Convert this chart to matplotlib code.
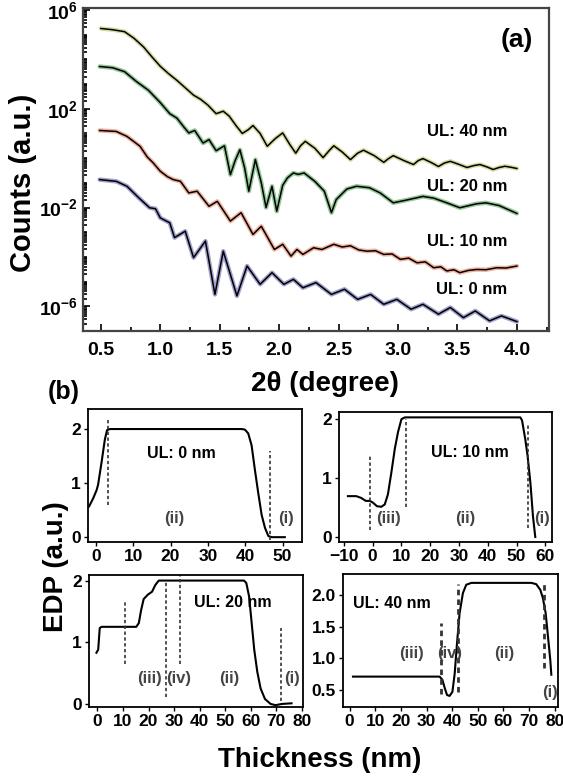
import numpy as np
import matplotlib
matplotlib.use("Agg")
import matplotlib.pyplot as plt
from matplotlib.ticker import LogLocator, FixedLocator, NullFormatter, FuncFormatter, MultipleLocator

plt.rcParams['font.family'] = ['Liberation Sans', 'DejaVu Sans']
plt.rcParams['font.weight'] = 'bold'
plt.rcParams['mathtext.fontset'] = 'custom'
plt.rcParams['mathtext.rm'] = 'Liberation Sans:bold'
plt.rcParams['mathtext.bf'] = 'Liberation Sans:bold'

# ---- panel (a): reflectivity curves, x = 2theta, values as log10(counts)
x40 = [0.50, 0.60, 0.70, 0.78, 0.86, 0.93, 1.00, 1.07, 1.14, 1.21, 1.28, 1.34, 1.40, 1.47, 1.53,
       1.58, 1.64, 1.69, 1.74, 1.78, 1.84, 1.90, 1.97, 2.03, 2.09, 2.14, 2.18, 2.22, 2.30, 2.37,
       2.42, 2.46, 2.53, 2.60, 2.66, 2.71, 2.80, 2.88, 2.92, 2.96, 3.05, 3.13, 3.17, 3.21, 3.28,
       3.34, 3.39, 3.44, 3.51, 3.58, 3.64, 3.69, 3.75, 3.80, 3.85, 3.90, 3.95, 4.00]
y40 = [5.25, 5.20, 5.12, 4.85, 4.50, 4.10, 3.72, 3.42, 3.15, 2.85, 2.55, 2.38, 2.15, 1.80, 1.90,
       1.70, 1.30, 1.00, 1.15, 1.32, 1.00, 0.48, 0.80, 1.02, 0.55, 0.20, 0.50, 0.68, 0.40, 0.02,
       0.30, 0.50, 0.25, -0.06, 0.20, 0.32, 0.10, -0.17, -0.02, 0.10, -0.10, -0.26, -0.10, -0.02,
       -0.18, -0.34, -0.20, -0.13, -0.25, -0.38, -0.30, -0.26, -0.36, -0.46, -0.38, -0.33, -0.37, -0.42]

x20 = [0.49, 0.60, 0.70, 0.80, 0.90, 1.00, 1.08, 1.14, 1.20, 1.24, 1.29, 1.36, 1.41, 1.47, 1.54,
       1.59, 1.63, 1.67, 1.71, 1.745, 1.80, 1.85, 1.89, 1.94, 1.98, 2.03, 2.07, 2.12, 2.16, 2.21,
       2.30, 2.38, 2.44, 2.48, 2.57, 2.65, 2.76, 2.85, 2.96, 3.07, 3.21, 3.30, 3.41, 3.52, 3.66,
       3.74, 3.85, 4.00]
y20 = [3.71, 3.66, 3.50, 3.10, 2.75, 2.25, 1.80, 1.62, 1.25, 1.02, 1.12, 0.61, 0.75, 0.30, 0.50,
       -0.67, -0.10, 0.34, -0.40, -1.34, -0.06, -1.00, -2.00, -1.14, -2.15, -1.10, -0.80, -0.60, -0.66, -0.60,
       -0.94, -1.34, -2.21, -1.68, -1.25, -1.14, -1.20, -1.41, -1.81, -1.70, -1.55, -1.62, -1.81, -2.01, -1.85,
       -1.81, -1.92, -2.24]

x10 = [0.49, 0.63, 0.72, 0.83, 0.89, 0.94, 1.00, 1.06, 1.11, 1.17, 1.24, 1.31, 1.41, 1.48, 1.59,
       1.68, 1.78, 1.85, 1.96, 2.03, 2.10, 2.15, 2.20, 2.29, 2.36, 2.46, 2.53, 2.60, 2.67, 2.74,
       2.81, 2.88, 2.95, 3.02, 3.09, 3.16, 3.23, 3.30, 3.36, 3.41, 3.47, 3.52, 3.59, 3.66, 3.74,
       3.83, 3.91, 4.00]
y10 = [1.12, 1.08, 0.88, 0.48, 0.05, -0.19, -0.53, -0.75, -0.87, -0.94, -1.41, -1.34, -1.95, -1.75, -2.55,
       -2.21, -3.09, -2.76, -3.70, -3.49, -3.97, -3.70, -3.90, -3.63, -3.70, -3.49, -3.60, -3.55, -3.72, -3.77,
       -3.75, -3.90, -3.88, -4.10, -4.05, -4.24, -4.20, -4.44, -4.40, -4.57, -4.52, -4.64, -4.55, -4.51, -4.52,
       -4.44, -4.45, -4.37]

x0 = [0.49, 0.63, 0.72, 0.82, 0.91, 0.96, 1.00, 1.08, 1.12, 1.21, 1.28, 1.38, 1.46, 1.53, 1.645,
      1.73, 1.84, 1.94, 2.04, 2.12, 2.20, 2.31, 2.44, 2.55, 2.66, 2.77, 2.88, 2.99, 3.11, 3.21,
      3.34, 3.44, 3.55, 3.65, 3.77, 3.87, 4.00]
y0 = [-0.87, -0.94, -1.14, -1.61, -2.01, -2.05, -2.42, -2.62, -3.22, -2.96, -4.03, -3.36, -5.52, -3.77, -5.58,
      -4.37, -5.11, -4.64, -5.11, -4.91, -5.25, -5.04, -5.52, -5.31, -5.72, -5.52, -5.92, -5.72, -6.12, -5.92,
      -6.32, -6.05, -6.46, -6.19, -6.59, -6.39, -6.62]

curves_a = [(x40, y40, '#b9bd5c', 'UL: 40 nm', 1.08, 3.58),
            (x20, y20, '#3f9a45', 'UL: 20 nm', -1.14, 3.58),
            (x10, y10, '#e87452', 'UL: 10 nm', -3.36, 3.58),
            (x0, y0, '#5555a8', 'UL: 0 nm', -5.31, 3.62)]

# ---- panel (b): electron density profiles (thickness nm, EDP a.u.)
t0 = [-1.8, -0.7, 0.2, 0.6, 1.5, 2.4, 3.0, 3.8, 39.0, 39.9, 40.8, 41.7, 42.6, 43.5, 44.4, 45.3, 46.2, 47.1, 50.6]
e0 = [0.57, 0.72, 0.87, 0.97, 1.37, 1.80, 1.98, 2.0, 2.0, 1.99, 1.92, 1.70, 1.24, 0.81, 0.41, 0.17, 0.02, 0.0, 0.0]

t10 = [-8.6, -5.7, -4.0, -2.4, -1.0, 0.1, 1.5, 3.0, 4.2, 5.3, 6.5, 7.7, 8.8, 10.0, 11.2, 51.3, 51.9,
       53.0, 53.8, 54.8, 55.7, 56.5]
e10 = [0.69, 0.69, 0.66, 0.61, 0.61, 0.58, 0.52, 0.51, 0.55, 0.72, 1.09, 1.49, 1.77, 1.99, 2.02, 2.02, 1.97,
       1.66, 1.38, 0.92, 0.35, 0.0]

t20 = [-0.4, 0.3, 0.9, 1.6, 15.2, 16.2, 17.1, 18.1, 19.7, 21.4, 22.7, 24.0, 57.4, 58.3, 59.4, 60.4,
       61.4, 62.6, 63.9, 65.6, 67.8, 69.7, 72.3, 76.0]
e20 = [0.83, 0.88, 1.23, 1.25, 1.25, 1.31, 1.52, 1.70, 1.77, 1.82, 1.93, 2.0, 2.0, 1.96, 1.74, 1.31,
       0.88, 0.52, 0.25, 0.08, 0.0, -0.02, 0.0, 0.01]

t40 = [1.3, 35.1, 36.2, 37.1, 38.0, 39.0, 40.1, 41.0, 41.9, 42.9, 44.2, 45.5, 47.5, 70.9, 72.8, 74.4,
       75.4, 76.5, 77.4, 78.3, 78.7]
e40 = [0.71, 0.71, 0.66, 0.53, 0.42, 0.405, 0.47, 0.76, 1.24, 1.71, 2.03, 2.16, 2.19, 2.19, 2.17, 2.08,
       1.95, 1.71, 1.34, 0.97, 0.74]

# interface markers: (position, bottom, top)
marks0 = [(3.2, 0.6, 2.2), (46.5, -0.05, 1.6)]
marks10 = [(-1.0, 0.12, 1.37), (11.5, 0.5, 2.0), (53.8, 0.15, 1.91)]
marks20 = [(10.9, 0.65, 1.66), (26.9, 0.11, 2.01), (32.3, 0.65, 2.09), (72.0, 0.04, 1.23)]
marks40 = [(35.8, 0.44, 1.56), (42.3, 0.46, 2.17), (75.8, 0.84, 2.17)]

labels0 = [('(ii)', 21, 0.35), ('(i)', 51, 0.35)]
labels10 = [('(iii)', 5.6, 0.32), ('(ii)', 32, 0.32), ('(i)', 58.8, 0.32)]
labels20 = [('(iii)', 20.4, 0.42), ('(iv)', 31.8, 0.42), ('(ii)', 51.8, 0.42), ('(i)', 76.2, 0.42)]
labels40 = [('(iii)', 24, 1.08), ('(iv)', 39, 1.08), ('(ii)', 60.5, 1.08), ('(i)', 78, 0.46)]

fig = plt.figure(figsize=(5.63, 7.76), dpi=100)

# ---------------- (a)
ax = fig.add_axes([0.1474, 0.5735, 0.8277, 0.4162])
for xs, ys, col, lab, ly, lx in curves_a:
    vals = 10.0 ** np.array(ys)
    ax.plot(xs, vals, color=col, lw=3.2, alpha=0.55, solid_capstyle='round')
    ax.plot(xs, vals, color='black', lw=1.1)
    ax.text(lx, 10.0 ** ly, lab, ha='center', va='center', fontsize=12, fontweight='bold')
ax.set_yscale('log')
ax.set_xlim(0.35, 4.27)
ax.set_ylim(10 ** -7, 10 ** 6.08)
ax.xaxis.set_major_locator(FixedLocator([0.5, 1.0, 1.5, 2.0, 2.5, 3.0, 3.5, 4.0]))
ax.xaxis.set_minor_locator(MultipleLocator(0.25))
ax.yaxis.set_major_locator(FixedLocator([1e-6, 1e-2, 1e2, 1e6]))
ax.yaxis.set_minor_locator(LogLocator(base=10, subs=np.arange(1, 10), numticks=200))
ax.yaxis.set_minor_formatter(NullFormatter())
ax.yaxis.set_major_formatter(FuncFormatter(lambda v, p: r'$\mathbf{10^{%d}}$' % round(np.log10(v))))
ax.xaxis.set_major_formatter(FuncFormatter(lambda v, p: '%.1f' % v))
ax.tick_params(which='both', direction='in', labelsize=14, width=1.2)
ax.tick_params(which='major', length=5)
ax.tick_params(which='minor', length=3)
ax.tick_params(axis='x', pad=8)
for s in ax.spines.values():
    s.set_linewidth(1.6)
    s.set_color('#444444')
ax.text(0.93, 0.90, '(a)', transform=ax.transAxes, ha='center', va='center', fontsize=19, fontweight='bold')

fig.text(0.040, 0.765, 'Counts (a.u.)', rotation=90, ha='center', va='center', fontsize=21, fontweight='bold')
fig.text(0.578, 0.505, '2θ (degree)', ha='center', va='center', fontsize=20, fontweight='bold')
fig.text(0.113, 0.495, '(b)', ha='center', va='center', fontsize=18, fontweight='bold')

# ---------------- (b)
panels = [
    ([0.1563, 0.3015, 0.3801, 0.1714], t0, e0, marks0, labels0, 'UL: 0 nm', (23, 1.55, 'center'),
     (-2.1, 55.2), (-0.09, 2.37), [0, 10, 20, 30, 40, 50], [0, 1, 2], '%d', 1.2),
    ([0.6021, 0.3015, 0.3783, 0.1675], t10, e10, marks10, labels10, 'UL: 10 nm', (33.8, 1.43, 'center'),
     (-11.7, 62.3), (-0.085, 2.11), [-10, 0, 10, 20, 30, 40, 50, 60], [0, 1, 2], '%d', 1.2),
    ([0.1581, 0.0889, 0.3801, 0.1701], t20, e20, marks20, labels20, 'UL: 20 nm', (52.9, 1.64, 'center'),
     (-3.3, 80.5), (-0.05, 2.09), [0, 10, 20, 30, 40, 50, 60, 70, 80], [0, 1, 2], '%d', 1.2),
    ([0.6092, 0.0889, 0.3819, 0.1714], t40, e40, marks40, labels40, 'UL: 40 nm', (1.3, 1.87, 'left'),
     (-2.6, 81.3), (0.23, 2.33), [0, 10, 20, 30, 40, 50, 60, 70, 80], [0.5, 1.0, 1.5, 2.0], '%.1f', 2.0),
]
for rect, tx, ey, marks, labs, ul, ulpos, xl, yl, xt, yt, yfmt, dlw in panels:
    bx = fig.add_axes(rect)
    bx.plot(tx, ey, color='black', lw=1.5)
    for pos, lo, hi in marks:
        bx.plot([pos, pos], [lo, hi], color='#333333', lw=dlw, linestyle=(0, (2, 1.5)))
    for txt, px, py in labs:
        bx.text(px, py, txt, ha='center', va='center', fontsize=12, color='#444444', fontweight='bold')
    bx.text(ulpos[0], ulpos[1], ul, ha=ulpos[2], va='center', fontsize=11.5, fontweight='bold')
    bx.set_xlim(*xl)
    bx.set_ylim(*yl)
    bx.set_xticks(xt)
    bx.set_yticks(yt)
    bx.yaxis.set_major_formatter(FuncFormatter(lambda v, p, f=yfmt: f % v))
    bx.tick_params(direction='out', length=3, width=1, labelsize=12.5, pad=2)
    for s in bx.spines.values():
        s.set_linewidth(1.3)

fig.text(0.100, 0.270, 'EDP (a.u.)', rotation=90, ha='center', va='center', fontsize=20, fontweight='bold')
fig.text(0.567, 0.021, 'Thickness (nm)', ha='center', va='center', fontsize=20, fontweight='bold')

fig.savefig('out.png', dpi=100)
